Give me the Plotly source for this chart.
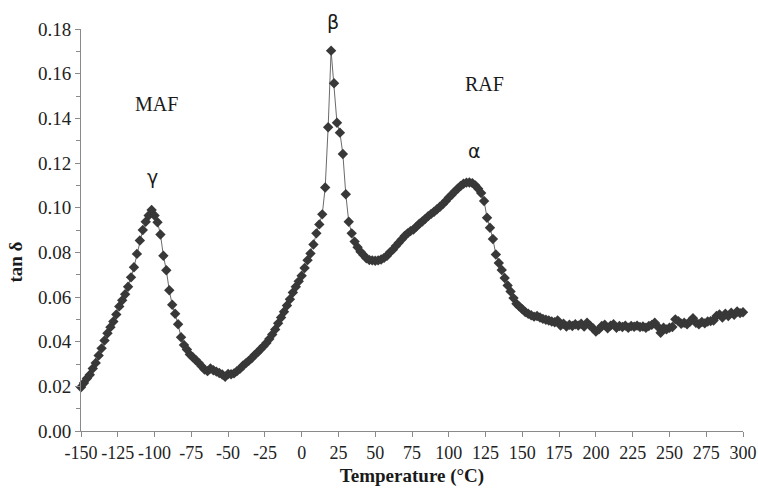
import plotly.graph_objects as go

temperature = [
    -150, -148, -146, -144, -142, -140, -138, -136, -134, -132, -130, -128, -126, -124, -122, -120,
    -118, -116, -114, -112, -110, -108, -106, -104, -102, -100, -98, -96, -94, -92, -90, -88,
    -86, -84, -82, -80, -78, -76, -74, -72, -70, -68, -66, -64, -62, -60, -58, -56,
    -54, -52, -50, -48, -46, -44, -42, -40, -38, -36, -34, -32, -30, -28, -26, -24,
    -22, -20, -18, -16, -14, -12, -10, -8, -6, -4, -2, 0, 2, 4, 6, 8,
    10, 12, 14, 16, 18, 20, 22, 24, 26, 28, 30, 32, 34, 36, 38, 40,
    42, 44, 46, 48, 50, 52, 54, 56, 58, 60, 62, 64, 66, 68, 70, 72,
    74, 76, 78, 80, 82, 84, 86, 88, 90, 92, 94, 96, 98, 100, 102, 104,
    106, 108, 110, 112, 114, 116, 118, 120, 122, 124, 126, 128, 130, 132, 134, 136,
    138, 140, 142, 144, 146, 148, 150, 152, 154, 156, 158, 160, 162, 164, 166, 168,
    170, 172, 174, 176, 178, 180, 182, 184, 186, 188, 190, 192, 194, 196, 198, 200,
    202, 204, 206, 208, 210, 212, 214, 216, 218, 220, 222, 224, 226, 228, 230, 232,
    234, 236, 238, 240, 242, 244, 246, 248, 250, 252, 254, 256, 258, 260, 262, 264,
    266, 268, 270, 272, 274, 276, 278, 280, 282, 284, 286, 288, 290, 292, 294, 296,
    298, 300,
]

tan_delta = [
    0.0196, 0.0215, 0.0235, 0.0252, 0.0280, 0.0305, 0.0338, 0.0370, 0.0405, 0.0438, 0.0465, 0.0490, 0.0522, 0.0558, 0.0585, 0.0612,
    0.0646, 0.0688, 0.0733, 0.0793, 0.0853, 0.0900, 0.0937, 0.0965, 0.0990, 0.0965, 0.0935, 0.0880, 0.0785, 0.0720, 0.0630, 0.0565,
    0.0525, 0.0478, 0.0420, 0.0385, 0.0365, 0.0343, 0.0330, 0.0318, 0.0305, 0.0290, 0.0275, 0.0268, 0.0280, 0.0272, 0.0266, 0.0260,
    0.0253, 0.0243, 0.0255, 0.0254, 0.0258, 0.0268, 0.0278, 0.0292, 0.0303, 0.0314, 0.0326, 0.0340, 0.0352, 0.0366, 0.0379, 0.0394,
    0.0412, 0.0432, 0.0455, 0.0482, 0.0508, 0.0534, 0.0562, 0.0590, 0.0620, 0.0646, 0.0670, 0.0695, 0.0730, 0.0765, 0.0795, 0.0835,
    0.0885, 0.0925, 0.0970, 0.1090, 0.1360, 0.1703, 0.1557, 0.1380, 0.1336, 0.1240, 0.1060, 0.0937, 0.0885, 0.0848, 0.0823, 0.0803,
    0.0788, 0.0773, 0.0766, 0.0764, 0.0762, 0.0764, 0.0768, 0.0775, 0.0785, 0.0800, 0.0812, 0.0828, 0.0843, 0.0858, 0.0873, 0.0885,
    0.0895, 0.0902, 0.0915, 0.0928, 0.0938, 0.0950, 0.0962, 0.0972, 0.0982, 0.0993, 0.1004, 0.1016, 0.1030, 0.1045, 0.1058, 0.1072,
    0.1085, 0.1097, 0.1107, 0.1112, 0.1113, 0.1110, 0.1100, 0.1085, 0.1066, 0.1030, 0.0955, 0.0910, 0.0860, 0.0790, 0.0752, 0.0721,
    0.0685, 0.0652, 0.0625, 0.0595, 0.0570, 0.0557, 0.0545, 0.0533, 0.0525, 0.0518, 0.0512, 0.0515, 0.0508, 0.0502, 0.0498, 0.0495,
    0.0490, 0.0487, 0.0495, 0.0472, 0.0480, 0.0468, 0.0476, 0.0470, 0.0478, 0.0472, 0.0480, 0.0468, 0.0485, 0.0472, 0.0460, 0.0445,
    0.0455, 0.0470, 0.0476, 0.0460, 0.0472, 0.0478, 0.0462, 0.0470, 0.0466, 0.0472, 0.0462, 0.0470, 0.0467, 0.0472, 0.0466, 0.0468,
    0.0462, 0.0470, 0.0475, 0.0485, 0.0468, 0.0440, 0.0462, 0.0455, 0.0462, 0.0466, 0.0500, 0.0492, 0.0480, 0.0485, 0.0478, 0.0490,
    0.0505, 0.0485, 0.0478, 0.0488, 0.0482, 0.0490, 0.0492, 0.0495, 0.0515, 0.0522, 0.0508, 0.0525, 0.0515, 0.0530, 0.0520, 0.0535,
    0.0528, 0.0532,
]

x_ticks = [-150, -125, -100, -75, -50, -25, 0, 25, 50, 75, 100, 125, 150, 175, 200, 225, 250, 275, 300]
y_ticks = [0.00, 0.02, 0.04, 0.06, 0.08, 0.10, 0.12, 0.14, 0.16, 0.18]

labels_text = ["MAF", "γ", "β", "RAF", "α"]
labels_x = [-98.5, -101.2, 21.2, 124.0, 117.2]
labels_y = [0.1464, 0.1137, 0.1830, 0.1555, 0.1253]
labels_font = ["Liberation Serif", "DejaVu Sans", "DejaVu Sans", "Liberation Serif", "DejaVu Sans"]

fig = go.Figure()
fig.add_trace(go.Scatter(
    x=temperature, y=tan_delta, mode="lines+markers",
    line=dict(color="#6a6a6a", width=1),
    marker=dict(symbol="diamond", size=8, color="#383838", line=dict(width=0)),
    showlegend=False, cliponaxis=False,
))

for t, lx, ly, lf in zip(labels_text, labels_x, labels_y, labels_font):
    fig.add_annotation(x=lx, y=ly / 0.18, text=t, showarrow=False, xref="x", yref="paper",
                       xanchor="center", yanchor="middle",
                       font=dict(family=lf, size=20 if lf.startswith("Lib") else 19, color="#1a1a1a"))

fig.add_annotation(x=-0.099, y=0.42, xref="paper", yref="paper", text="<b>tan δ</b>",
                   textangle=-90, showarrow=False, xanchor="center", yanchor="middle",
                   font=dict(family="Liberation Serif", size=19, color="#1a1a1a"))

y_font = dict(family="Liberation Serif", size=19, color="#222222")
x_font = dict(family="Liberation Serif", size=18, color="#222222")
fig.update_layout(
    width=758, height=490,
    margin=dict(l=81, r=15, t=29, b=59, autoexpand=False),
    paper_bgcolor="white", plot_bgcolor="white",
    xaxis=dict(
        range=[-150, 300], tickmode="array", tickvals=x_ticks,
        ticktext=[str(v) for v in x_ticks], tickangle=0,
        showgrid=False, zeroline=False, showline=True, linecolor="#8a8a8a", linewidth=1,
        ticks="outside", ticklen=5, tickcolor="#8a8a8a", tickfont=x_font,
        title=dict(text="<b>Temperature (°C)</b>", font=dict(family="Liberation Serif", size=19, color="#1a1a1a"), standoff=7),
    ),
    yaxis=dict(
        range=[0, 0.18], tickmode="array", tickvals=y_ticks,
        ticktext=[f"{v:.2f}" for v in y_ticks],
        showgrid=False, zeroline=False, showline=True, linecolor="#8a8a8a", linewidth=1,
        ticks="outside", ticklen=5, tickcolor="#8a8a8a", tickfont=y_font,
        minor=dict(dtick=0.01, ticks="outside", ticklen=4, tickcolor="#8a8a8a", showgrid=False),
    ),
)

fig.write_html("out.html", config={"displayModeBar": False},
               post_script="document.body.style.margin='0';document.body.style.overflow='hidden';")
